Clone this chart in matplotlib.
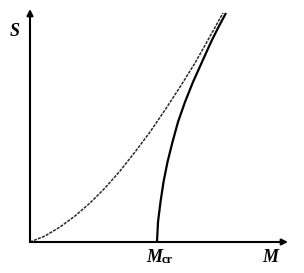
import matplotlib.pyplot as plt

# curves (M right, S up, origin at axis corner)
dash_m = [0, 15, 30, 45, 60, 75, 90, 105, 120, 135, 150, 165, 178, 193]
dash_s = [0, 6, 15, 26, 39, 54, 71, 90, 110, 132, 155, 179, 202, 229]

solid_m = [127, 128, 130.5, 133.5, 137.5, 142.5, 148, 155, 163, 172, 181, 188, 196]
solid_s = [0, 20, 40, 60, 80, 100, 120, 140, 160, 180, 200, 214, 229]

m_cr = 127

fig = plt.figure(figsize=(3.04, 2.73), dpi=100)
ax = fig.add_axes([0, 0, 1, 1])
ax.set_xlim(-30, 274)
ax.set_ylim(-31, 242)
ax.axis('off')

# axes with arrows
ax.annotate('', xy=(258, 0), xytext=(0, 0),
            arrowprops=dict(arrowstyle='-|>', lw=1.5, color='black',
                            mutation_scale=9, shrinkA=0, shrinkB=0))
ax.annotate('', xy=(0, 233), xytext=(0, 0),
            arrowprops=dict(arrowstyle='-|>', lw=1.5, color='black',
                            mutation_scale=9, shrinkA=0, shrinkB=0))

ax.plot(dash_m, dash_s, color='#2a2a2a', lw=1.1, dashes=(2, 0.8))
ax.plot(solid_m, solid_s, color='black', lw=1.6, solid_capstyle='butt')

font = dict(family='Liberation Serif', weight='bold', style='italic', size=13)
ax.text(-15, 211, 'S', ha='center', va='center', **font)
ax.text(240, -15, 'M', ha='center', va='center', **font)
ax.text(m_cr - 3, -15, 'M', ha='center', va='center', **font)
ax.text(m_cr + 5, -18, 'cr', ha='left', va='center', family='Liberation Serif',
        weight='bold', size=9)

fig.savefig('out.png', dpi=100)
